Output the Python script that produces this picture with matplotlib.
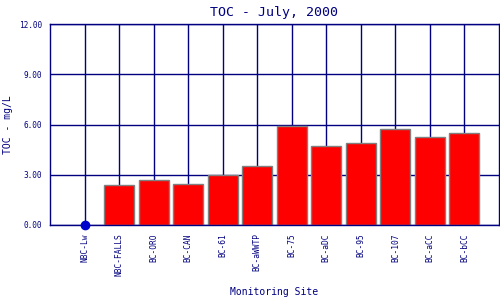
import matplotlib
matplotlib.use('Agg')
import matplotlib.pyplot as plt

# data
sites = ['NBC-Lw', 'NBC-FALLS', 'BC-ORO', 'BC-CAN', 'BC-61', 'BC-aWWTP',
         'BC-75', 'BC-aDC', 'BC-95', 'BC-107', 'BC-aCC', 'BC-bCC']
toc = [0.0, 2.39, 2.67, 2.43, 2.98, 3.50, 5.89, 4.70, 4.88, 5.71, 5.25, 5.47]
yticks = [0, 3, 6, 9, 12]

NAVY = '#000080'
plt.rcParams['font.family'] = 'DejaVu Sans Mono'

fig = plt.figure(figsize=(5, 3), dpi=100)
ax = fig.add_axes([0.10, 0.25, 0.898, 0.67])

x = list(range(len(sites)))
ax.set_axisbelow(True)
ax.grid(True, color=NAVY, linewidth=1.0)
ax.bar(x[1:], toc[1:], width=0.87, color='#ff0000', edgecolor='#808080', linewidth=1.0, zorder=2)
ax.plot(x[0], toc[0], 'o', color='#0000cc', markersize=6, zorder=3, clip_on=False)

ax.set_xlim(-1, len(sites))
ax.set_ylim(0, 12)
ax.set_xticks(x)
ax.set_xticklabels(sites, rotation=90, fontsize=5.7, color=NAVY)
ax.set_yticks(yticks)
ax.set_yticklabels(['%.2f' % v for v in yticks], fontsize=5.6, color=NAVY)
ax.tick_params(axis='x', length=0, pad=6)
ax.tick_params(axis='y', length=0, pad=6)
for s in ax.spines.values():
    s.set_color(NAVY)
    s.set_linewidth(1.0)

ax.set_title('TOC - July, 2000', fontsize=9.5, color=NAVY, pad=6)
ax.set_ylabel('TOC - mg/L', fontsize=7, color=NAVY)
ax.yaxis.set_label_coords(-0.082, 0.5)
ax.set_xlabel('Monitoring Site', fontsize=7, color=NAVY)
ax.xaxis.set_label_coords(0.5, -0.31)

fig.savefig('out.png')
